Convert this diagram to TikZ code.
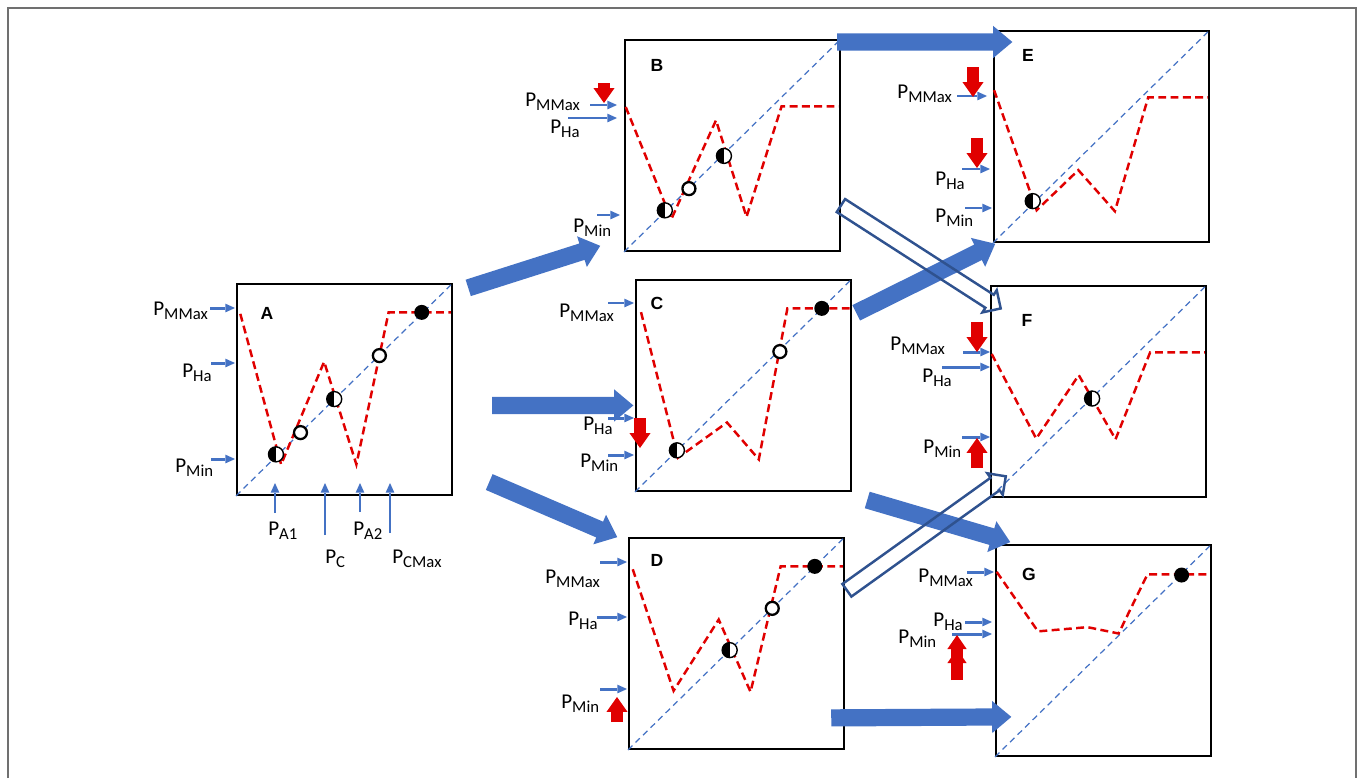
\documentclass[tikz,border=0pt]{standalone}
\usepackage{fontspec}
\setmainfont{Carlito}
\newfontfamily\tagfont{Liberation Sans}
\usetikzlibrary{positioning,arrows.meta,shapes.arrows,calc}
\definecolor{azulpin}{HTML}{4472C4}
\definecolor{azulosc}{HTML}{2F528F}
\definecolor{rojo}{HTML}{E00000}
\definecolor{marco}{HTML}{707070}
\newcommand{\psub}[1]{\raisebox{-2.5pt}{\fontsize{9.5}{10}\selectfont #1}}
\newcommand{\bigarrow}[3][]{%
  \path (#2) coordinate (t1) (#3) coordinate (t2);
  \path let \p1=($(t2)-(t1)$), \n1={atan2(\y1,\x1)}, \n2={veclen(\x1,\y1)} in
    node[bigarr, #1, minimum height=\n2, rotate=\n1, anchor=tail] at (t1) {};}
\tikzset{
  panel/.style={draw, line width=1.1pt, minimum width=4.3cm, minimum height=4.22cm,
    inner sep=0, anchor=north west},
  tag/.style={font=\tagfont\bfseries\fontsize{10}{12}\selectfont, inner sep=0},
  plabel/.style={anchor=base west, inner sep=0, font=\fontsize{12}{14}\selectfont},
  pin/.style={azulpin, line width=1.7pt, -{Triangle[length=5.5pt, width=5pt, line width=0pt]}},
  redarr/.style={rojo, line width=6.5pt, -{Triangle[length=8.5pt, width=12pt, line width=0pt]}},
  redarr2/.style={redarr, -{Triangle[length=8pt, width=11pt, line width=0pt]
    Triangle[length=8pt, width=11pt, line width=0pt]}},
  diag/.style={azulpin, line width=0.7pt, dash pattern=on 3.5pt off 2.5pt},
  curva/.style={rojo, line width=1.4pt, dash pattern=on 4.5pt off 2.5pt},
  bigarr/.style={single arrow, inner xsep=0, inner ysep=0.165cm, minimum width=0,
    single arrow head extend=0.15cm, single arrow tip angle=80, fill=azulpin},
  hueco/.style={fill=none, draw=azulosc, line width=1.4pt, inner ysep=0.13cm,
    single arrow head extend=0.11cm, single arrow tip angle=90},
  fulldot/.style={circle, fill=black, inner sep=0, minimum size=0.3cm},
  opendot/.style={circle, draw=black, fill=white, line width=1.3pt, inner sep=0, minimum size=0.26cm},
  halfdot/.style={circle, draw=black, fill=white, line width=0.8pt, inner sep=0, minimum size=0.3cm,
    path picture={\fill[black] (path picture bounding box.south west) rectangle (path picture bounding box.north);}},
  inpanel/.style={shift={(#1.south west)}, x=4.3cm, y=4.22cm},
}
\begin{document}
\begin{tikzpicture}[x=0.02cm, y=-0.02cm]
  \useasboundingbox (0,0) rectangle (1363,778);
  \draw[marco, line width=1.1pt] (8,778) -- (8,8) -- (1356,8) -- (1356,778);
  % paneles
  \foreach \p/\x/\y/\dx/\dy in {A/236/283/31/30, B/624/39/33/26, C/635/279/22/24,
      D/628/537/29/23, E/993/30/35/25, F/990/285/37/35, G/995/544/34/30}{
    \node[panel] (\p) at (\x,\y) {};
    \node[tag] (tag\p) at ($(\p.north west)+(\dx,\dy)$) {\p};
    \draw[diag] (\p.south west) -- (\p.north east);
  }
  % curvas
  \begin{scope}[inpanel=A]
    \draw[curva] (0.02,0.863) -- (0.21,0.149) -- (0.41,0.636) -- (0.56,0.149) -- (0.71,0.87) -- (1,0.87);
    \node[halfdot] (A1) at (0.186,0.197) {};
    \node[opendot] (A2) at (0.30,0.30) {};
    \node[halfdot] (A3) at (0.457,0.459) {};
    \node[opendot] (A4) at (0.667,0.665) {};
    \node[fulldot] (A5) at (0.864,0.87) {};
  \end{scope}
  \begin{scope}[inpanel=B]
    \draw[curva] (0.008,0.687) -- (0.22,0.155) -- (0.428,0.624) -- (0.57,0.166) -- (0.733,0.69) -- (1,0.69);
    \node[halfdot] (B1) at (0.19,0.197) {};
    \node[opendot] (B2) at (0.302,0.3) {};
    \node[halfdot] (B3) at (0.465,0.455) {};
  \end{scope}
  \begin{scope}[inpanel=C]
    \draw[curva] (0.028,0.852) -- (0.2,0.162) -- (0.428,0.329) -- (0.576,0.154) -- (0.709,0.87) -- (1,0.87);
    \node[halfdot] (C1) at (0.195,0.197) {};
    \node[opendot] (C2) at (0.674,0.665) {};
    \node[fulldot] (C3) at (0.869,0.87) {};
  \end{scope}
  \begin{scope}[inpanel=D]
    \draw[curva] (0.022,0.856) -- (0.212,0.28) -- (0.422,0.618) -- (0.57,0.275) -- (0.71,0.87) -- (1,0.87);
    \node[halfdot] (D1) at (0.473,0.473) {};
    \node[opendot] (D2) at (0.671,0.671) {};
    \node[fulldot] (D3) at (0.869,0.87) {};
  \end{scope}
  \begin{scope}[inpanel=E]
    \draw[curva] (0.005,0.724) -- (0.203,0.155) -- (0.397,0.345) -- (0.567,0.15) -- (0.722,0.69) -- (1,0.69);
    \node[halfdot] (E1) at (0.185,0.198) {};
  \end{scope}
  \begin{scope}[inpanel=F]
    \draw[curva] (0.008,0.682) -- (0.215,0.281) -- (0.413,0.582) -- (0.584,0.278) -- (0.745,0.69) -- (1,0.69);
    \node[halfdot] (F1) at (0.475,0.471) {};
  \end{scope}
  \begin{scope}[inpanel=G]
    \draw[curva] (0.008,0.877) -- (0.2,0.595) -- (0.43,0.615) -- (0.575,0.585) -- (0.709,0.865) -- (1,0.865);
    \node[fulldot] (G1) at (0.868,0.862) {};
  \end{scope}
  % flechas de nivel
  \foreach \xa/\xb/\y in {210/235/308, 211/235/363, 211/235/459,
      590/617/105, 568/617/118, 597/620/215, 608/634/303, 608/634/418, 608/634/455,
      600/627/562, 597/627/617, 600/627/689, 957/987/96, 962/990/169, 965/992/208,
      963/990/352, 942/990/367, 962/990/437, 967/994/572, 965/992/622, 952/992/634}
    \draw[pin] (\xa,\y) -- (\xb,\y);
  \foreach \x/\ya in {275/513, 325/535, 360/512, 390/533}
    \draw[pin] (\x,\ya) -- (\x,483);
  % etiquetas
  \foreach \x/\y/\s [count=\i] in {153/315/MMax, 182/377/Ha, 175/472/Min, 268/535/A1,
      325/563/C, 353/535/A2, 392/563/CMax, 525/106/MMax, 550/133/Ha, 573/232/Min,
      559/317/MMax, 583/430/Ha, 580/467/Min, 545/583/MMax, 568/625/Ha, 561/708/Min,
      897/98/MMax, 935/185/Ha, 935/222/Min, 890/350/MMax, 922/382/Ha, 923/453/Min,
      918/582/MMax, 933/626/Ha, 898/643/Min}
    \node[plabel] (lab\i) at (\x,\y) {P\psub{\s}};
  % flechas rojas
  \foreach \x/\ya/\yb in {604/83/103, 640/418/448, 617/722/697, 973/67/97,
      977/138/168, 977/322/352, 977/468/438}
    \draw[redarr] (\x,\ya) -- (\x,\yb);
  \draw[redarr2] (957,680) -- (957,635);
  % flechas de bloque
  \bigarrow{$(A.north east)+(15,5)$}{$(B.south west)+(-24,-6)$}
  \bigarrow{$(A.east)+(39,16)$}{$(C.west)+(-2,20)$}
  \bigarrow{$(A.south east)+(36,-14)$}{$(D.north west)+(-11,0)$}
  \bigarrow{$(B.north east)+(-4,3)$}{$(E.north west)+(19,12)$}
  \bigarrow{$(C.north east)+(4,34)$}{$(E.south west)+(2,1)$}
  \bigarrow{$(C.south east)+(15,8)$}{$(G.north west)+(15,-2)$}
  \bigarrow{$(D.south east)+(-14,-32)$}{$(G.south west)+(16,-40)$}
  \bigarrow[hueco]{$(B.south east)+(-1,-47)$}{$(F.north west)+(10,23)$}
  \bigarrow[hueco]{$(D.north east)+(1,54)$}{$(F.south west)+(15,-21)$}
\end{tikzpicture}
\end{document}
